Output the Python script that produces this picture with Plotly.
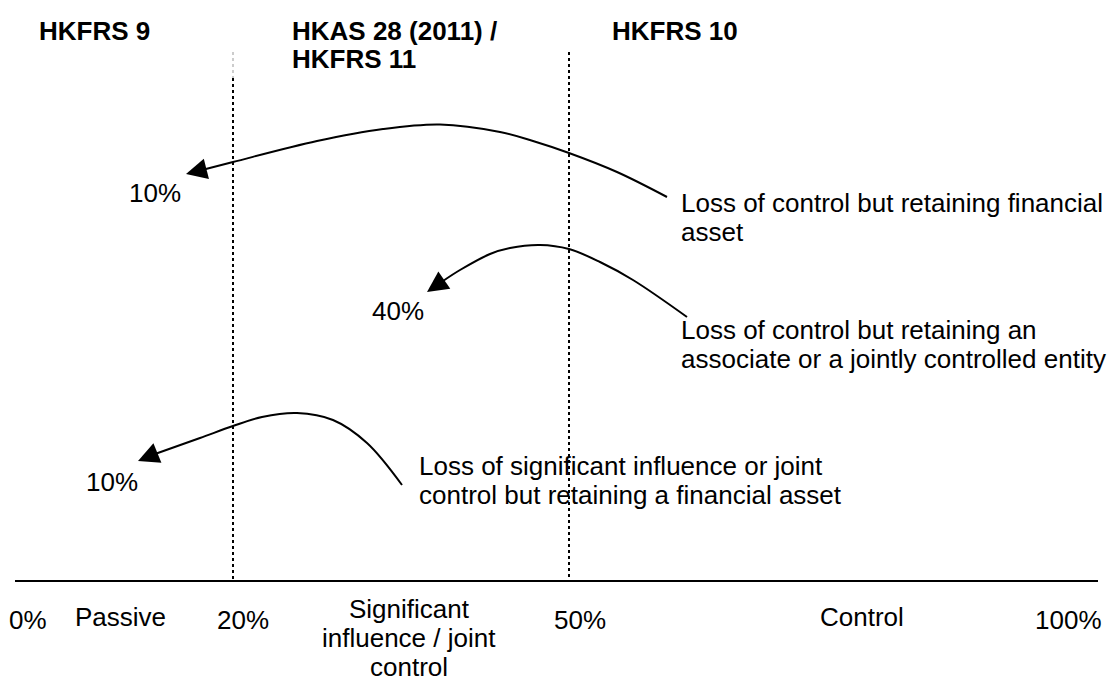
import plotly.graph_objects as go

# ---- diagram content -------------------------------------------------------
standards = ["HKFRS 9", "HKAS 28 (2011) /", "HKFRS 11", "HKFRS 10"]
standard_x = [37, 290, 290, 610]
standard_y = [31, 31, 59, 31]

thresholds = ["20%", "50%"]            # dotted boundary lines
threshold_x = [233, 569]

scale_labels = ["0%", "Passive", "20%", "Significant", "influence / joint", "control",
                "50%", "Control", "100%"]
scale_x = [28, 120, 243, 409, 409, 409, 580, 862, 1068]
scale_y = [620, 617, 620, 609, 638, 667, 620, 617, 620]

# retained interest after each transaction
retained = ["10%", "40%", "10%"]
retained_x = [155, 398, 112]
retained_y = [193, 311, 482]

events = [
    ["Loss of control but retaining financial", "asset"],
    ["Loss of control but retaining an", "associate or a jointly controlled entity"],
    ["Loss of significant influence or joint", "control but retaining a financial asset"],
]
event_x = [679, 679, 417]
event_y = [203, 330, 466]

# arrow paths (from the event text to the retained stake)
path1_x = [667, 617, 569, 533, 500, 440, 383, 317, 233, 200]
path1_y = [197, 172, 153, 141, 132, 124.5, 129, 141, 162, 170.5]
path2_x = [687, 633, 600, 569, 540, 510, 490, 460, 443]
path2_y = [317, 280, 262, 249, 245, 248, 254, 270, 281]
path3_x = [402, 367, 333, 297, 262, 233, 200, 155]
path3_y = [485, 443, 420, 413, 417, 426, 438, 454]
paths = [(path1_x, path1_y), (path2_x, path2_y), (path3_x, path3_y)]
arrow_tips = [(186, 174), (427, 292), (138, 461)]

fig = go.Figure()

FONT = "Liberation Sans, Arial, sans-serif"

# baseline
fig.add_trace(go.Scatter(x=[15, 1098], y=[581, 581], mode="lines",
                         line=dict(color="black", width=2), hoverinfo="skip"))

# dotted boundaries
for i, xv in enumerate(threshold_x):
    if i == 0:
        fig.add_trace(go.Scatter(x=[xv, xv], y=[52, 78], mode="lines",
                                 line=dict(color="#999999", width=1, dash="dot"),
                                 hoverinfo="skip"))
        y0 = 78
    else:
        y0 = 52
    fig.add_trace(go.Scatter(x=[xv, xv], y=[y0, 580], mode="lines",
                             line=dict(color="black", width=2, dash="dot"),
                             hoverinfo="skip"))

# curved arrows
for (px, py), (tx, ty) in zip(paths, arrow_tips):
    fig.add_trace(go.Scatter(x=px, y=py, mode="lines",
                             line=dict(color="black", width=2, shape="spline", smoothing=1.0),
                             hoverinfo="skip"))
    fig.add_annotation(x=tx, y=ty, ax=px[-1], ay=py[-1], xref="x", yref="y",
                       axref="x", ayref="y", text="", showarrow=True,
                       arrowhead=2, arrowsize=2.1, arrowwidth=2, arrowcolor="black",
                       standoff=0)

# headings
for t, xv, yv in zip(standards, standard_x, standard_y):
    fig.add_annotation(x=xv, y=yv, text="<b>%s</b>" % t, showarrow=False,
                       xanchor="left", yanchor="middle",
                       font=dict(family=FONT, size=26, color="black"))

# scale labels
for t, xv, yv in zip(scale_labels, scale_x, scale_y):
    fig.add_annotation(x=xv, y=yv, text=t, showarrow=False,
                       xanchor="center", yanchor="middle",
                       font=dict(family=FONT, size=26, color="black"))

# retained stakes
for t, xv, yv in zip(retained, retained_x, retained_y):
    fig.add_annotation(x=xv, y=yv, text=t, showarrow=False,
                       xanchor="center", yanchor="middle",
                       font=dict(family=FONT, size=26, color="black"))

# event descriptions
for lines, xv, yv in zip(events, event_x, event_y):
    for k, line in enumerate(lines):
        fig.add_annotation(x=xv, y=yv + 29 * k, text=line, showarrow=False,
                           xanchor="left", yanchor="middle",
                           font=dict(family=FONT, size=26, color="black"))

# page has an 8px body margin: shift the axis ranges so units match page pixels
fig.update_layout(
    width=1118, height=682,
    margin=dict(l=0, r=0, t=0, b=0),
    paper_bgcolor="white", plot_bgcolor="white",
    showlegend=False,
    xaxis=dict(range=[8, 1126], visible=False, fixedrange=True),
    yaxis=dict(range=[690, 8], visible=False, fixedrange=True),
)

fig.write_html("out.html")
